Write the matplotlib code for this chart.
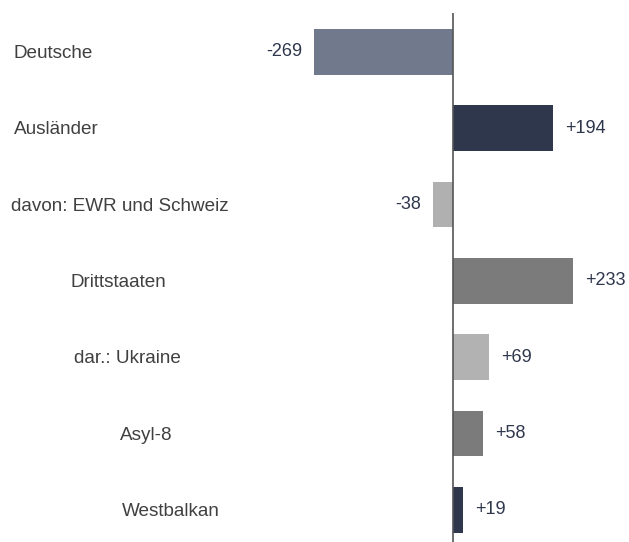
import numpy as np
import matplotlib.pyplot as plt
import matplotlib.transforms as mtransforms

plt.rcParams['font.family'] = ['Liberation Sans', 'DejaVu Sans']

# -- data
categories = ["Deutsche", "Ausländer", "davon: EWR und Schweiz", "Drittstaaten",
              "dar.: Ukraine", "Asyl-8", "Westbalkan"]
values = [-269, 194, -38, 233, 69, 58, 19]
bar_colors = ["#717a8c", "#2f374d", "#b0b0b0", "#7b7b7b", "#b2b2b2", "#7b7b7b", "#2f374d"]
label_x_px = [14, 14, 11, 71, 74, 120, 122]

# -- figure
W, H = 629, 542
fig = plt.figure(figsize=(W / 100, H / 100), dpi=100)
ax = fig.add_axes([0, 0, 1, 1 - 13 / H])

pos = np.arange(len(values))
ax.barh(pos, values, height=0.6, color=bar_colors, zorder=2)
ax.axvline(0, color="#555555", lw=1.2, zorder=3)

scale = 0.517
ax.set_xlim(-453 / scale, (W - 453) / scale)
ax.set_ylim((H - 52) / 76.3, (13 - 52) / 76.3)
ax.axis("off")

# -- value labels
off = 12 / scale
for p, v in zip(pos, values):
    if v < 0:
        ax.text(v - off, p, f"{v}", ha="right", va="center",
                fontsize=13, color="#2f374d")
    else:
        ax.text(v + off, p, f"+{v}", ha="left", va="center",
                fontsize=13, color="#2f374d")

# -- category labels
trans = mtransforms.blended_transform_factory(fig.transFigure, ax.transData)
for p, c, xp in zip(pos, categories, label_x_px):
    ax.text(xp / W, p + 0.02, c, ha="left", va="center", fontsize=13.6,
            color="#404040", transform=trans)

fig.savefig("out.png", dpi=100)
